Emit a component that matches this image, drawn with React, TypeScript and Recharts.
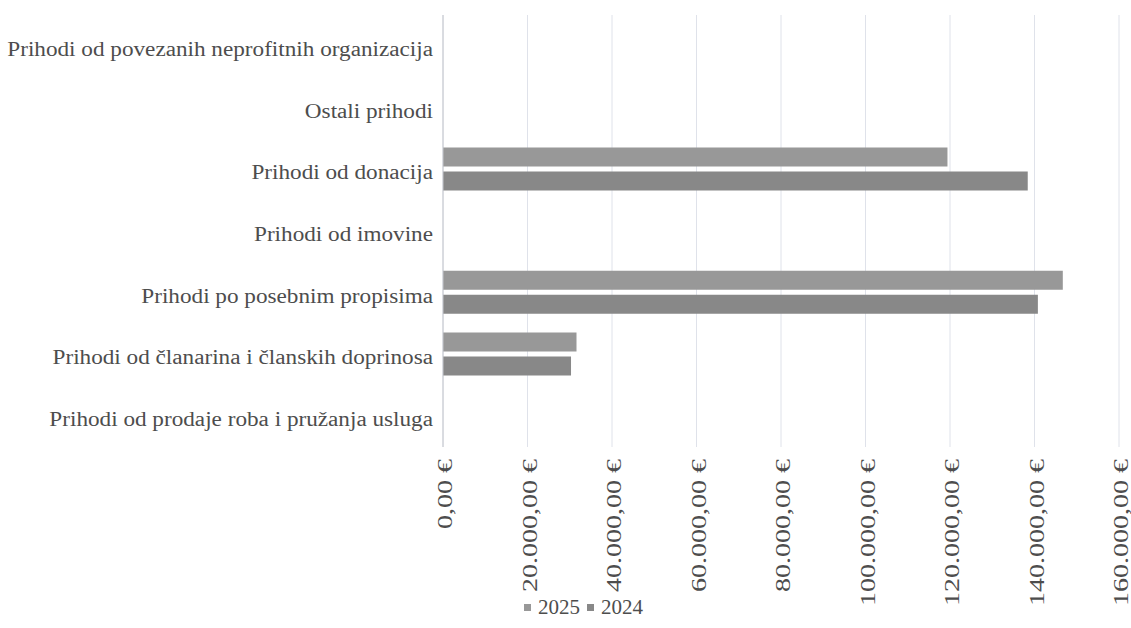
import React from 'react';
import { BarChart, Bar, XAxis, YAxis, CartesianGrid, Legend } from 'recharts';

const categories = [
  'Prihodi od povezanih neprofitnih organizacija',
  'Ostali prihodi',
  'Prihodi od donacija',
  'Prihodi od imovine',
  'Prihodi po posebnim propisima',
  'Prihodi od članarina i članskih doprinosa',
  'Prihodi od prodaje roba i pružanja usluga',
];
const values2025 = [0, 0, 119400, 0, 146700, 31600, 0];
const values2024 = [0, 0, 138400, 0, 140800, 30300, 0];
const xTicks = [0, 20000, 40000, 60000, 80000, 100000, 120000, 140000, 160000];

const FONT = '"Liberation Serif", "Times New Roman", serif';
const TEXT = '#4d4d4d';
const GRID = '#dfe2ea';

const data = categories.map((name, i) => ({
  name,
  y2025: values2025[i],
  y2024: values2024[i],
}));

const euro = (v: number) => {
  const whole = Math.round(v)
    .toString()
    .replace(/\B(?=(\d{3})+(?!\d))/g, '.');
  return `${whole},00 €`;
};

// scanned original is stretched, so widen the glyphs a little
const YTick = (props: any) => {
  const { x, y, payload } = props;
  return (
    <g transform={`translate(${x},${y + 3})`}>
      <text
        transform="scale(1.16,1)"
        textAnchor="end"
        dy="0.35em"
        fontFamily={FONT}
        fontSize={20}
        fill={TEXT}
      >
        {payload.value}
      </text>
    </g>
  );
};

const XTick = (props: any) => {
  const { x, y, payload } = props;
  return (
    <g transform={`translate(${x + 2},${y + 4}) rotate(-90)`}>
      <text
        transform="scale(1.4,1)"
        textAnchor="end"
        dy="0.35em"
        fontFamily={FONT}
        fontSize={20}
        fill={TEXT}
      >
        {euro(payload.value)}
      </text>
    </g>
  );
};

const LegendContent = () => (
  <div style={{ display: 'flex', justifyContent: 'center', gap: 7, fontFamily: FONT, fontSize: 21, color: TEXT, paddingTop: 3 }}>
    {[
      { label: '2025', color: '#989898' },
      { label: '2024', color: '#888888' },
    ].map((item) => (
      <span key={item.label} style={{ display: 'inline-flex', alignItems: 'center' }}>
        <span style={{ width: 7, height: 7, background: item.color, marginRight: 7, display: 'inline-block' }} />
        {item.label}
      </span>
    ))}
  </div>
);

export default function App() {
  return (
    <div style={{ position: 'absolute', left: 0, top: 0, background: '#fff' }}>
      <BarChart
        width={1131}
        height={628}
        data={data}
        layout="vertical"
        margin={{ top: 15, right: 12, left: 0, bottom: 0 }}
        barSize={19}
        barGap={5}
      >
        <CartesianGrid horizontal={false} stroke={GRID} />
        <XAxis
          type="number"
          domain={[0, 160000]}
          ticks={xTicks}
          interval={0}
          axisLine={false}
          tickLine={false}
          height={145}
          tick={<XTick />}
        />
        <YAxis
          type="category"
          dataKey="name"
          width={443}
          axisLine={{ stroke: '#c4c6cc' }}
          tickLine={false}
          tickMargin={4}
          tick={<YTick />}
        />
        <Legend verticalAlign="bottom" height={36} content={<LegendContent />} wrapperStyle={{ left: 24 }} />
        <Bar dataKey="y2025" name="2025" fill="#989898" isAnimationActive={false} />
        <Bar dataKey="y2024" name="2024" fill="#888888" isAnimationActive={false} />
      </BarChart>
    </div>
  );
}
